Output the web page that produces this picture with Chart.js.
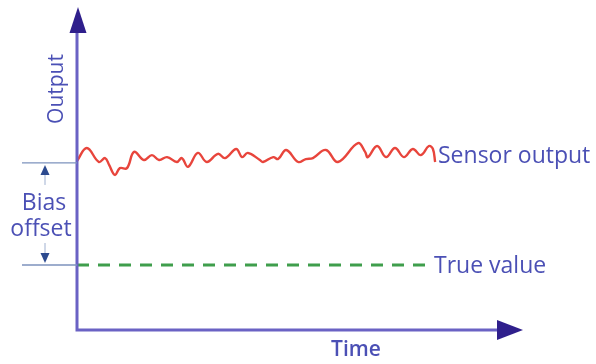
<!DOCTYPE html>
<html>
<head>
<meta charset="utf-8">
<script src="https://cdn.jsdelivr.net/npm/chart.js@4"></script>
<style>
  body { margin: 0; background: #fff; }
  #wrap { width: 596px; height: 364px; }
</style>
</head>
<body>
<div id="wrap"><canvas id="bias-chart"></canvas></div>
<script>
// sensor trace (time 0..100, output 0..100)
const sensorTime = [0, 2.2, 4.9, 6.3, 7.2, 8.5, 9.6, 11.2, 12.8, 15.0, 16.8, 18.4, 20.2, 22.4, 23.5, 24.9,
  27.1, 29.1, 31.6, 33.2, 35.7, 37.0, 38.3, 41.0, 41.7, 44.0, 45.1, 46.9, 49.6, 51.3, 52.9, 55.8, 58.5,
  63.0, 64.6, 65.2, 67.3, 69.3, 71.3, 73.3, 75.3, 77.1, 78.9, 79.8, 80.3];
const sensorOutput = [52.0, 56.0, 51.7, 52.9, 50.8, 47.7, 49.8, 49.8, 54.8, 52.3, 53.8, 52.3, 53.2, 51.7, 52.9, 50.2,
  54.5, 51.7, 54.2, 52.9, 55.7, 53.2, 54.5, 52.3, 51.7, 53.2, 52.6, 55.4, 51.7, 52.6, 52.9, 55.4, 51.7,
  57.5, 54.8, 53.2, 56.6, 53.2, 56.0, 53.2, 55.7, 53.8, 56.6, 55.7, 51.7];
const trueTime = [0, 79];
const trueOutput = [20, 20];
const biasLevel = 51.4;

const labelColor = '#4b50b5';
const axisColor = '#6a62c4';
const arrowColor = '#2f1f8c';

const toPoints = (xs, ys) => xs.map((x, i) => ({ x, y: ys[i] }));

function arrowHead(ctx, tipX, tipY, dir, len, half, color) {
  // dir: 'up' | 'down' | 'right'
  ctx.fillStyle = color;
  ctx.beginPath();
  ctx.moveTo(tipX, tipY);
  if (dir === 'up') {
    ctx.lineTo(tipX - half, tipY + len);
    ctx.lineTo(tipX + half, tipY + len);
  } else if (dir === 'down') {
    ctx.lineTo(tipX - half, tipY - len);
    ctx.lineTo(tipX + half, tipY - len);
  } else {
    ctx.lineTo(tipX - len, tipY - half);
    ctx.lineTo(tipX - len, tipY + half);
  }
  ctx.closePath();
  ctx.fill();
}

const sketchPlugin = {
  id: 'sketch',
  afterDatasetsDraw(chart) {
    const { ctx, scales: { x, y } } = chart;
    const x0 = x.getPixelForValue(0);
    const xEnd = x.getPixelForValue(100);
    const y0 = y.getPixelForValue(0);
    const yEnd = y.getPixelForValue(100);
    const yBias = y.getPixelForValue(biasLevel);
    const yTrue = y.getPixelForValue(trueOutput[0]);

    ctx.save();
    // axes
    ctx.strokeStyle = axisColor;
    ctx.lineWidth = 3;
    ctx.beginPath();
    ctx.moveTo(x0, yEnd + 20);
    ctx.lineTo(x0, y0);
    ctx.lineTo(xEnd - 20, y0);
    ctx.stroke();
    arrowHead(ctx, x0 + 1, yEnd + 2, 'up', 26, 8.5, arrowColor);
    arrowHead(ctx, xEnd, y0, 'right', 26, 10, arrowColor);

    // bias offset markers
    ctx.strokeStyle = '#7d93bd';
    ctx.lineWidth = 1.3;
    ctx.beginPath();
    ctx.moveTo(22, yBias); ctx.lineTo(x0, yBias);
    ctx.moveTo(22, yTrue); ctx.lineTo(x0, yTrue);
    ctx.stroke();
    ctx.strokeStyle = '#9fb0d0';
    ctx.lineWidth = 1;
    ctx.beginPath();
    ctx.moveTo(45, yBias + 10); ctx.lineTo(45, yBias + 22);
    ctx.moveTo(45, yTrue - 10); ctx.lineTo(45, yTrue - 22);
    ctx.stroke();
    arrowHead(ctx, 45, yBias + 2, 'up', 10, 4.5, '#2c4a8f');
    arrowHead(ctx, 45, yTrue - 2, 'down', 10, 4.5, '#2c4a8f');

    // texts
    ctx.fillStyle = labelColor;
    ctx.textBaseline = 'middle';
    ctx.font = '23px "Open Sans", sans-serif';
    ctx.textAlign = 'center';
    ctx.fillText('Bias', 44, 203);
    ctx.fillText('offset', 41, 229);
    ctx.textAlign = 'left';
    ctx.fillText('Sensor output', 438, 156);
    ctx.fillText('True value', 434, 266);
    ctx.textAlign = 'center';
    ctx.font = '600 21px "Open Sans", sans-serif';
    ctx.fillText('Time', 356, 350);
    ctx.save();
    ctx.translate(57, 89);
    ctx.rotate(-Math.PI / 2);
    ctx.font = '21px "Open Sans", sans-serif';
    ctx.fillText('Output', 0, 0);
    ctx.restore();
    ctx.restore();
  }
};

const chart = new Chart(document.getElementById('bias-chart'), {
  type: 'line',
  data: {
    datasets: [
      {
        label: 'Sensor output',
        data: toPoints(sensorTime, sensorOutput),
        borderColor: '#e8453c',
        borderWidth: 2.4,
        pointRadius: 0,
        tension: 0.4,
        clip: 10,
      },
      {
        label: 'True value',
        data: toPoints(trueTime, trueOutput),
        borderColor: '#3f9e4c',
        borderWidth: 3,
        borderDash: [12, 9],
        pointRadius: 0,
      },
    ],
  },
  options: {
    responsive: true,
    maintainAspectRatio: false,
    animation: false,
    layout: { padding: { left: 77, top: 5, right: 73, bottom: 34 } },
    plugins: {
      legend: { display: false },
      tooltip: { enabled: false },
    },
    scales: {
      x: { type: 'linear', min: 0, max: 100, display: false },
      y: { type: 'linear', min: 0, max: 100, display: false },
    },
  },
  plugins: [sketchPlugin],
});
</script>
</body>
</html>
